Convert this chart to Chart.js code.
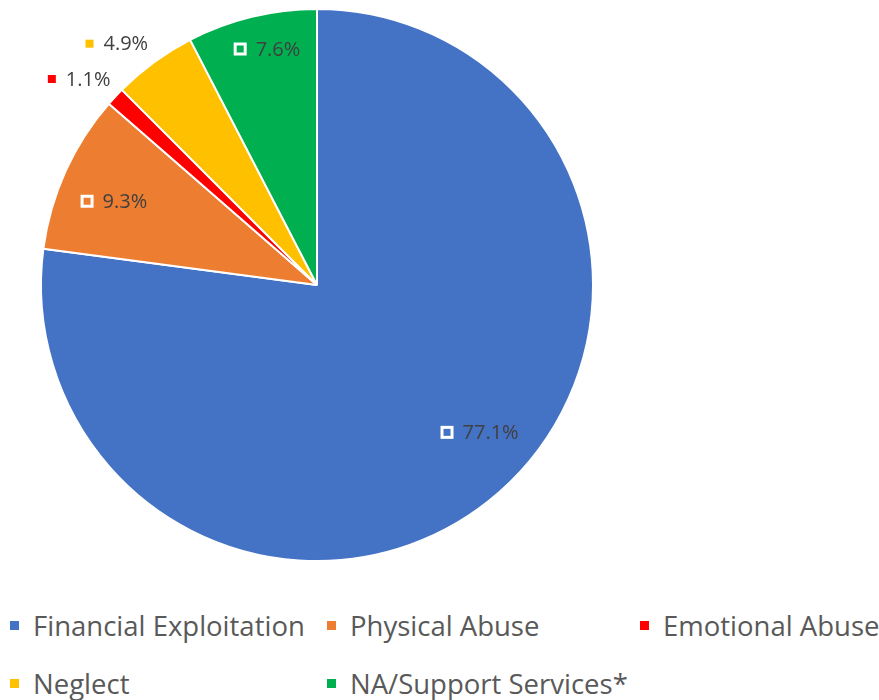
<!DOCTYPE html>
<html>
<head>
<meta charset="utf-8">
<script src="https://cdn.jsdelivr.net/npm/chart.js@4"></script>
<style>
    html, body { margin: 0; padding: 0; background: #ffffff; }
    #wrap { position: relative; width: 879px; height: 700px; }
    #box { position: absolute; left: 0; top: 0; width: 879px; height: 580px; }
    #legenda {
        position: absolute; left: 10px; top: 603px;
        display: grid; grid-template-columns: 317px 313px auto;
        grid-auto-rows: 58px;
        font-family: "Open Sans", Lato, sans-serif; font-size: 27.5px; color: #595959;
    }
    .item { display: flex; align-items: center; height: 44px; white-space: nowrap; }
    .marca { width: 9px; height: 9px; margin-right: 14px; flex: none; }
</style>
</head>
<body>
<div id="wrap">
    <div id="box"><canvas id="graficoPizza"></canvas></div>
    <div id="legenda"></div>
</div>
<script>
"use strict";

/* Dados do gráfico */
const categorias = [
    "Financial Exploitation",
    "Physical Abuse",
    "Emotional Abuse",
    "Neglect",
    "NA/Support Services*"
];

const percentuais = [77.1, 9.3, 1.1, 4.9, 7.6];

const cores = ["#4472C4", "#ED7D31", "#FF0000", "#FFC000", "#00B050"];

/********************************************************************
 * Rótulos de dados (estilo Excel)
 ********************************************************************/
const pluginRotulos = {

    id: "rotulos",

    afterDatasetsDraw(chart, args, opcoes) {

        const ctx = chart.ctx;
        const meta = chart.getDatasetMeta(0);

        ctx.save();
        ctx.font = "20px 'Open Sans', Lato, sans-serif";
        ctx.textBaseline = "middle";
        ctx.textAlign = "left";

        meta.data.forEach((arco, i) => {

            const p = arco.getProps(["x", "y", "startAngle", "endAngle", "outerRadius"], true);
            const meio = (p.startAngle + p.endAngle) / 2 + (opcoes.giro[i] || 0);
            const valor = percentuais[i];
            const fora = valor < 5;
            const dist = p.outerRadius * opcoes.raio[i];

            const cx = p.x + Math.cos(meio) * dist;
            const cy = p.y + Math.sin(meio) * dist;

            const texto = valor.toFixed(1) + "%";
            const tw = ctx.measureText(texto).width;
            const m = fora ? 8 : 13;
            const gap = fora ? 10 : 9;
            const x0 = cx - (m + gap + tw) / 2;

            if (fora) {
                ctx.fillStyle = cores[i];
                ctx.fillRect(x0, cy - m / 2, m, m);
            } else {
                ctx.fillStyle = "#FFFFFF";
                ctx.fillRect(x0, cy - m / 2, m, m);
                ctx.fillStyle = cores[i];
                ctx.fillRect(x0 + 3, cy - m / 2 + 3, m - 6, m - 6);
            }

            ctx.fillStyle = "#404040";
            ctx.fillText(texto, x0 + m + gap, cy + 1);

        });

        ctx.restore();

    }

};

/********************************************************************
 * Cria gráfico
 ********************************************************************/
new Chart(document.getElementById("graficoPizza"), {

    type: "pie",

    data: {
        labels: categorias,
        datasets: [{
            data: percentuais,
            backgroundColor: cores,
            borderColor: "#FFFFFF",
            borderWidth: 2
        }]
    },

    options: {
        responsive: true,
        maintainAspectRatio: false,
        animation: false,
        layout: {
            padding: { left: 40, right: 285, top: 8, bottom: 18 }
        },
        plugins: {
            legend: { display: false },
            tooltip: { enabled: false },
            rotulos: {
                raio: [0.795, 0.796, 1.14, 1.136, 0.874],
                giro: [-0.115, -0.033, -0.037, -0.061, 0.03]
            }
        }
    },

    plugins: [pluginRotulos]

});

/********************************************************************
 * Legenda
 ********************************************************************/
const legenda = document.getElementById("legenda");

categorias.forEach((nome, i) => {

    const item = document.createElement("div");
    item.className = "item";

    const marca = document.createElement("span");
    marca.className = "marca";
    marca.style.background = cores[i];

    const texto = document.createElement("span");
    texto.textContent = nome;

    item.appendChild(marca);
    item.appendChild(texto);
    legenda.appendChild(item);

});
</script>
</body>
</html>
